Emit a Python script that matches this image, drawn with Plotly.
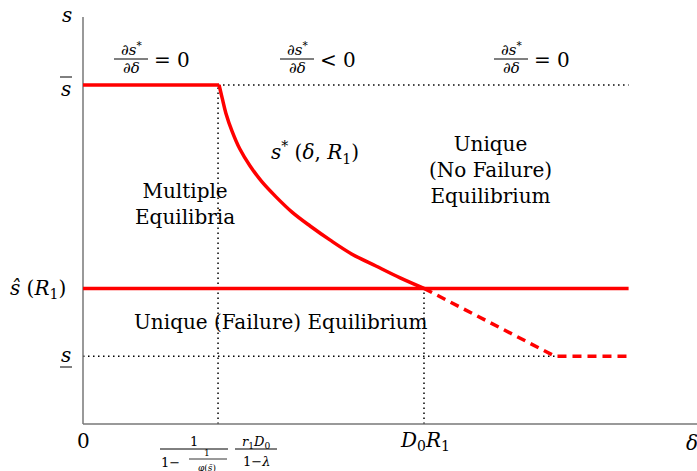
import plotly.graph_objects as go

# ---- data (normalised units: D0*R1 = 1, s_bar = 1) ----
delta_1 = 0.396          # 1/(1-1/φ(s̄)) · r1 D0/(1-λ)
delta_2 = 1.0            # D0 R1
delta_kink = 1.384
delta_max = 1.6
s_bar = 1.0
s_hat = 0.40
s_low = 0.20

curve_x = [0.399, 0.408, 0.419, 0.437, 0.460, 0.490, 0.525, 0.566, 0.613,
           0.666, 0.724, 0.789, 0.859, 0.930, 1.0]
curve_y = [1.0, 0.962, 0.917, 0.864, 0.811, 0.761, 0.714, 0.670, 0.625,
           0.584, 0.543, 0.501, 0.466, 0.431, 0.40]

# pixel helpers (figure is 697x471, origin of axes at pixel (83,424))
X0, SX, Y0, SY = 83, 341, 424, 339
def dx(px): return (px - X0) / SX
def dy(py): return (Y0 - py) / SY

RED = "#ff0000"
FONT = "DejaVu Serif"
fig = go.Figure()

def line(xs, ys, color, width, dash="solid", shape="linear"):
    fig.add_trace(go.Scatter(x=xs, y=ys, mode="lines",
                             line=dict(color=color, width=width, dash=dash, shape=shape,
                                       smoothing=1.0),
                             hoverinfo="skip", showlegend=False))

DOT = "1.5px,3.5px"
# dotted guides
line([delta_1, delta_max], [s_bar, s_bar], "black", 1.5, DOT)
line([0, delta_kink], [s_low, s_low], "black", 1.5, DOT)
line([delta_1, delta_1], [0, s_bar], "black", 1.5, DOT)
line([delta_2, delta_2], [0, s_hat], "black", 1.5, DOT)
# axes
line([0, 0], [0, dy(17)], "#777777", 1.5)
line([0, dx(697)], [0, 0], "#777777", 1.5)
# red lines
line([0, curve_x[0]], [s_bar, s_bar], RED, 3.5)
line(curve_x, curve_y, RED, 3.5, shape="spline")
line([0, delta_max], [s_hat, s_hat], RED, 3.5)
line([delta_2, delta_kink, delta_max], [s_hat, s_low, s_low], RED, 3.5, "9px,6px")

ann = []
def text(px, py, t, size=20, xanchor="center"):
    ann.append(dict(x=dx(px), y=dy(py), text=t, showarrow=False, xanchor=xanchor,
                    yanchor="middle", font=dict(family=FONT, size=size, color="black")))

def bar(px1, px2, py, w=1.0):
    fig.add_shape(type="line", x0=dx(px1), x1=dx(px2), y0=dy(py), y1=dy(py),
                  line=dict(color="black", width=w))

def deriv(xc, yc, rel):
    text(xc, yc - 10, "∂<i>s</i><sup>*</sup>", 15)
    text(xc, yc + 9, "∂<i>δ</i>", 15)
    bar(xc - 17, xc + 17, yc, 1.0)
    text(xc + 21, yc + 1, rel, 20, "left")

deriv(131, 59, "= 0")
deriv(297, 59, "&lt; 0")
deriv(511, 59, "= 0")

# axis labels
text(67, 15, "<i>s</i>", 20)
text(66, 89, "<i>s</i>", 20)
bar(60, 72, 77, 1.0)
text(66, 355, "<i>s</i>", 20)
bar(60, 72, 367, 1.0)
text(38, 289, "<i>ŝ</i> (<i>R</i><sub>1</sub>)", 20)
text(83, 441, "0", 20)
text(425, 441, "<i>D</i><sub>0</sub><i>R</i><sub>1</sub>", 20)
text(692, 443, "<i>δ</i>", 20)

# tick fraction at delta_1
text(194, 441, "1", 13)
bar(160, 228, 449, 1.0)
text(170, 462, "1−", 13)
text(207, 453, "1", 9)
bar(189, 227, 459, 0.8)
text(207, 468, "<i>φ</i>(<i>s̄</i>)", 9)
text(256, 442, "<i>r</i><sub>1</sub><i>D</i><sub>0</sub>", 13)
bar(235, 277, 449, 1.0)
text(256, 461, "1−<i>λ</i>", 13)

# region labels
text(315, 152, "<i>s</i><sup>*</sup> (<i>δ</i>, <i>R</i><sub>1</sub>)", 20)
text(185, 204, "Multiple<br>Equilibria", 20)
text(490, 170, "Unique<br>(No Failure)<br>Equilibrium", 20)
text(281, 322, "Unique (Failure) Equilibrium", 20)

fig.update_layout(
    width=697, height=471, margin=dict(l=0, r=0, t=0, b=0),
    plot_bgcolor="white", paper_bgcolor="white", showlegend=False,
    xaxis=dict(range=[dx(0), dx(697)], visible=False, fixedrange=True),
    yaxis=dict(range=[dy(471), dy(0)], visible=False, fixedrange=True),
    annotations=ann,
)
fig.write_html("out.html")
